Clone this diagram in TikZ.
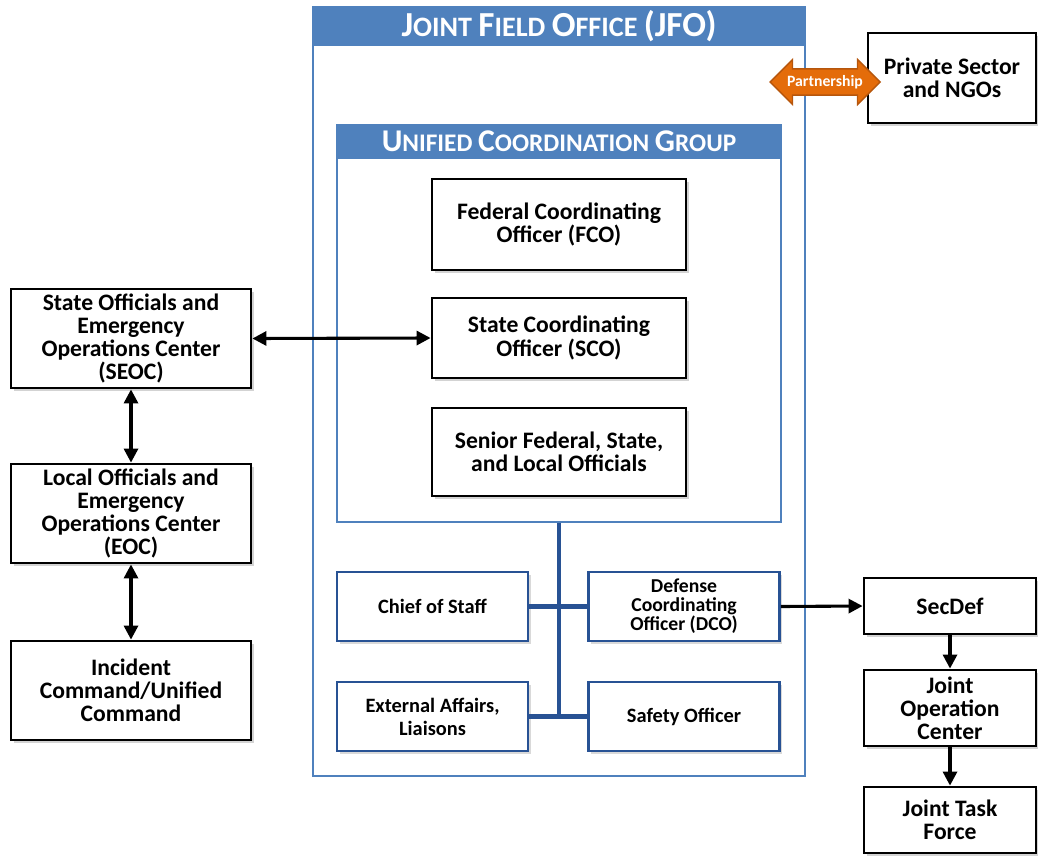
\documentclass[tikz,border=0pt]{standalone}
\usepackage{fontspec}
\setmainfont{Carlito}
\usetikzlibrary{arrows.meta,shapes.arrows,shadows}

\definecolor{hdblue}{RGB}{79,129,189}
\definecolor{boxblue}{RGB}{40,82,148}
\definecolor{partorange}{RGB}{228,108,10}
\definecolor{partedge}{RGB}{182,86,12}

\newcommand{\pu}{0.025cm}
\newcommand{\jfosc}[2]{{\fontsize{25}{25}\selectfont #1}{\fontsize{20}{20}\selectfont #2}}
\newcommand{\ucgsc}[2]{{\fontsize{22.5}{22}\selectfont #1}{\fontsize{18}{18}\selectfont #2}}

\tikzset{
    blackbox/.style={draw=black, line width=2pt, fill=white, align=center, inner sep=0pt,
        font=\bfseries\fontsize{16.8}{16.5}\selectfont,
        drop shadow={shadow xshift=2pt, shadow yshift=-2pt, opacity=0.35}},
    bluebox/.style={draw=boxblue, line width=2pt, fill=white, align=center, inner sep=0pt,
        font=\bfseries\fontsize{14.5}{16.3}\selectfont,
        minimum width=191*\pu, minimum height=69*\pu,
        drop shadow={shadow xshift=2pt, shadow yshift=-2pt, opacity=0.3}},
    frame/.style={draw=hdblue, line width=1.2pt, inner sep=0pt},
    header/.style={draw=hdblue, fill=hdblue, line width=1.2pt, inner sep=0pt, text=white,
        font=\bfseries, anchor=north},
    twoway/.style={line width=2.2pt, {Triangle[length=10pt,width=10pt]}-{Triangle[length=10pt,width=10pt]}},
    oneway/.style={line width=2.2pt, -{Triangle[length=10pt,width=10pt]}},
    tree/.style={draw=boxblue, line width=3pt}
}

\begin{document}
\begin{tikzpicture}[x=\pu, y=-\pu]
    \useasboundingbox (0,0) rectangle (1038,855);

    \node[frame, minimum width=492*\pu, minimum height=769*\pu] (jfo) at (559,391.5) {};
    \node[header, minimum width=492*\pu, minimum height=38*\pu,
        font=\bfseries\fontsize{20}{20}\selectfont] (jfohead) at (jfo.north)
        {\jfosc{J}{OINT} \jfosc{F}{IELD} \jfosc{O}{FFICE} {\fontsize{25}{25}\selectfont(JFO)}};

    \node[frame, minimum width=444*\pu, minimum height=397*\pu] (ucg) at (559,323.5) {};
    \node[header, minimum width=444*\pu, minimum height=33*\pu,
        font=\bfseries\fontsize{18}{18}\selectfont] (ucghead) at (ucg.north)
        {\ucgsc{U}{NIFIED} \ucgsc{C}{OORDINATION} \ucgsc{G}{ROUP}};

    \node[blackbox, minimum width=254*\pu, minimum height=91*\pu] (fco) at (559,224.5)
        {Federal Coordinating\\Officer (FCO)};
    \node[blackbox, minimum width=254*\pu, minimum height=80*\pu] (sco) at (559,338)
        {State Coordinating\\Officer (SCO)};
    \node[blackbox, minimum width=254*\pu, minimum height=88*\pu] (senior) at (559,452)
        {Senior Federal, State,\\and Local Officials};

    \node[bluebox] (chief) at (432.5,606.5) {Chief of Staff};
    \node[bluebox, font=\bfseries\fontsize{14}{13.6}\selectfont] (dco) at (684,606.5)
        {Defense\\Coordinating\\Officer (DCO)};
    \node[bluebox] (ext) at (432.5,716.5) {External Affairs,\\Liaisons};
    \node[bluebox] (safety) at (684,716.5) {Safety Officer};

    \draw[tree] (ucg.south) -- (ucg.south |- ext.east);
    \draw[tree] (chief.east) -- (dco.west);
    \draw[tree] (ext.east) -- (safety.west);

    \node[blackbox, minimum width=240*\pu, minimum height=99*\pu] (seoc) at (131,338.5)
        {State Officials and\\Emergency\\Operations Center\\(SEOC)};
    \node[blackbox, minimum width=240*\pu, minimum height=99*\pu] (eoc) at (131,513.5)
        {Local Officials and\\Emergency\\Operations Center\\(EOC)};
    \node[blackbox, minimum width=240*\pu, minimum height=99*\pu] (icuc) at (131,690.5)
        {Incident\\Command/Unified\\Command};

    \draw[twoway] (seoc.east) -- (sco.west);
    \draw[twoway] (seoc.south) -- (eoc.north);
    \draw[twoway] (eoc.south) -- (icuc.north);

    \node[blackbox, minimum width=168*\pu, minimum height=90*\pu] (private) at (952,78)
        {Private Sector\\and NGOs};
    \node[double arrow, fill=partorange, draw=partedge, line width=1pt, text=white,
        font=\bfseries\fontsize{11.2}{11}\selectfont, inner xsep=2pt, inner ysep=4pt,
        minimum height=110*\pu, double arrow head extend=6.7pt] (partner) at (825,82) {Partnership};

    \node[blackbox, minimum width=172*\pu, minimum height=56*\pu] (secdef) at (950,606) {SecDef};
    \node[blackbox, minimum width=172*\pu, minimum height=76*\pu] (joc) at (950,708)
        {Joint\\Operation\\Center};
    \node[blackbox, minimum width=172*\pu, minimum height=66*\pu] (jtf) at (950,820)
        {Joint Task\\Force};

    \draw[oneway] (dco.east) -- (secdef.west);
    \draw[oneway] (secdef.south) -- (joc.north);
    \draw[oneway] (joc.south) -- (jtf.north);
\end{tikzpicture}
\end{document}
